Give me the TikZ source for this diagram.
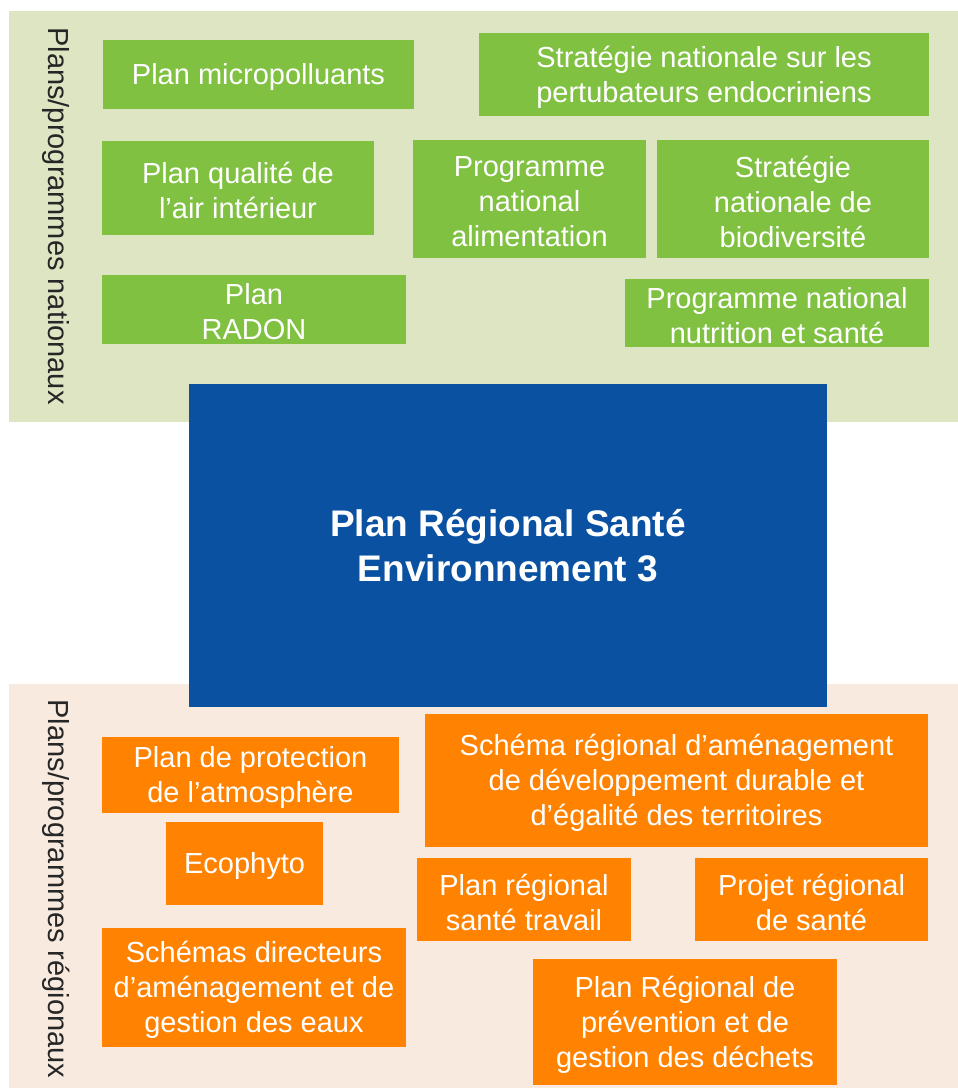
\documentclass[tikz,border=0pt]{standalone}
\usepackage{fontspec}
\setmainfont{Liberation Sans}
\definecolor{panelgreen}{HTML}{DEE5C2}
\definecolor{boxgreen}{HTML}{80C142}
\definecolor{panelpeach}{HTML}{F8EADF}
\definecolor{boxorange}{HTML}{FF8200}
\definecolor{mainblue}{HTML}{0A51A1}
\definecolor{labelgray}{HTML}{262626}
\newcommand\mybox[6]{%
  \node[#1, minimum width=#2pt, minimum height=#3pt] (#4) at #5 {};
  \node[txt] (#4-t) at (#4) {#6};}
\begin{document}
\begin{tikzpicture}[x=1pt,y=-1pt,
  txt/.style={inner sep=0pt, align=center, text=white, yshift=-2.5pt, font=\fontsize{29}{35}\selectfont},
  gbox/.style={inner sep=0pt, fill=boxgreen},
  obox/.style={inner sep=0pt, fill=boxorange},
  sidelabel/.style={rotate=-90, inner sep=0pt, text=labelgray, font=\fontsize{29}{34.5}\selectfont},
  panel/.style={inner sep=0pt, anchor=north west}]
\useasboundingbox[fill=white] (0,0) rectangle (958,1088);
% panels
\node[panel, fill=panelgreen, minimum width=949pt, minimum height=411pt] (natpanel) at (9,11) {};
\node[panel, fill=panelpeach, minimum width=949pt, minimum height=404pt] (regpanel) at (9,684) {};
\node[sidelabel] (natlabel) at (56,216) {Plans/programmes nationaux};
\node[sidelabel] (reglabel) at (56,889) {Plans/programmes régionaux};
% national boxes
\mybox{gbox}{311}{69}{micro}{(258.5,74.5)}{Plan micropolluants}
\mybox{gbox}{450}{83}{snpe}{(704,74.5)}{Stratégie nationale sur les\\pertubateurs endocriniens}
\mybox{gbox}{272}{94}{pqai}{(238,188)}{Plan qualité de\\l’air intérieur}
\mybox{gbox}{233}{118}{pna}{(529.5,199)}{Programme\\national\\alimentation}
\mybox{gbox}{272}{118}{snb}{(793,199)}{Stratégie\\nationale de\\biodiversité}
\mybox{gbox}{304}{69}{radon}{(254,309.5)}{Plan\\RADON}
\mybox{gbox}{304}{68}{pnns}{(777,313)}{Programme national\\nutrition et santé}
% central box
\node[inner sep=0pt, align=center, text=white, fill=mainblue, minimum width=638pt, minimum height=323pt, font=\fontsize{37}{45}\selectfont\bfseries] (prse) at (508,545.5) {Plan Régional Santé\\Environnement 3};
% regional boxes
\mybox{obox}{297}{76}{ppa}{(250.5,775)}{Plan de protection\\de l’atmosphère}
\mybox{obox}{157}{83}{ecophyto}{(244.5,863.5)}{Ecophyto}
\mybox{obox}{503}{133}{sraddet}{(676.5,780.5)}{Schéma régional d’aménagement\\de développement durable et\\d’égalité des territoires}
\mybox{obox}{214}{83}{prst}{(524,899.5)}{Plan régional\\santé travail}
\mybox{obox}{233}{83}{prs}{(811.5,899.5)}{Projet régional\\de santé}
\mybox{obox}{304}{119}{sdage}{(254,987.5)}{Schémas directeurs\\d’aménagement et de\\gestion des eaux}
\mybox{obox}{304}{126}{prpgd}{(685,1022)}{Plan Régional de\\prévention et de\\gestion des déchets}
\end{tikzpicture}
\end{document}
